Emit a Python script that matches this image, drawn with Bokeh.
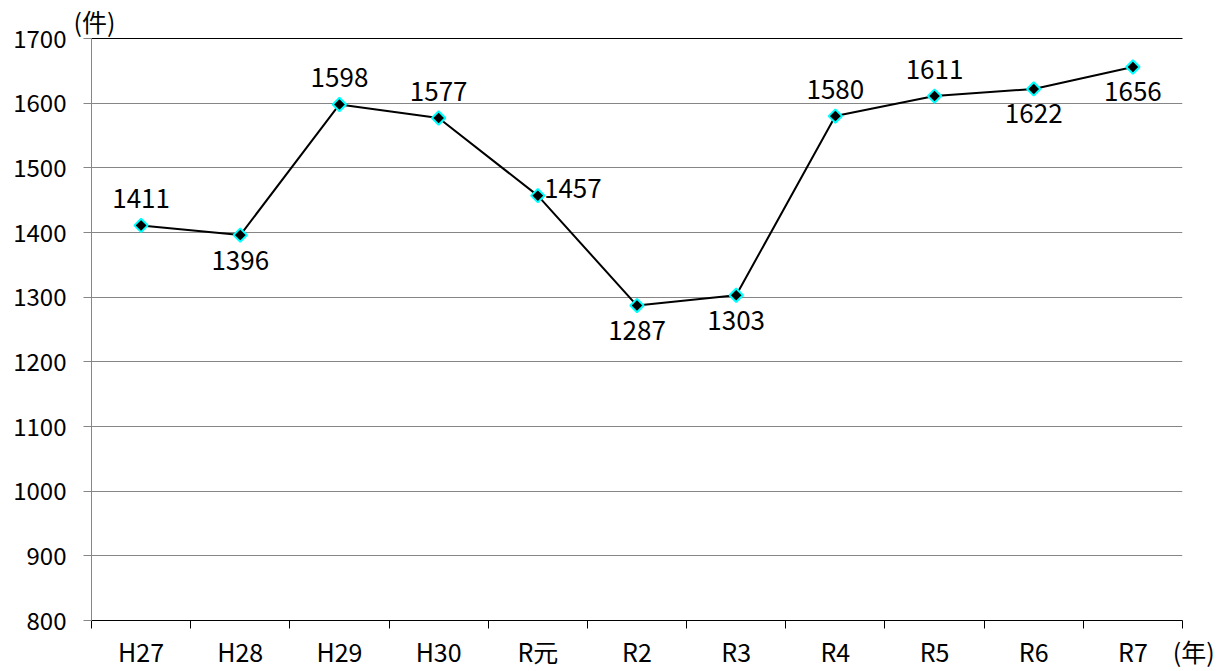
from bokeh.plotting import figure
from bokeh.models import (ColumnDataSource, LinearAxis, Range1d, FixedTicker,
                          LabelSet, FactorRange, Title)
from bokeh.core.properties import value
from bokeh.embed import file_html
from bokeh.resources import INLINE

years = ["H27", "H28", "H29", "H30", "R元", "R2", "R3", "R4", "R5", "R6", "R7"]
counts = [1411, 1396, 1598, 1577, 1457, 1287, 1303, 1580, 1611, 1622, 1656]
label_pos = ["above", "below", "above", "above", "right", "below", "below",
             "above", "above", "below", "below"]
y_ticks = [800, 900, 1000, 1100, 1200, 1300, 1400, 1500, 1600, 1700]
y_unit = "(件)"
x_unit = "(年)"

FONT = "Noto Sans CJK JP"

off_map = {"above": (0, 27), "below": (0, -25), "right": (35, 7)}
src = ColumnDataSource(dict(
    x=years, y=counts, t=[str(c) for c in counts],
    xo=[off_map[p][0] for p in label_pos],
    yo=[off_map[p][1] for p in label_pos],
))

p = figure(width=1231, height=671, x_range=FactorRange(*years), y_range=Range1d(800, 1700),
           output_backend="svg", toolbar_location=None, x_axis_location=None,
           min_border_left=91, min_border_right=49, min_border_top=38, min_border_bottom=50)
p.outline_line_color = None
p.background_fill_color = "white"
p.border_fill_color = "white"

# y axis
ya = p.yaxis[0]
ya.ticker = FixedTicker(ticks=y_ticks)
ya.axis_line_color = "#868686"
ya.major_tick_line_color = "#868686"
ya.major_tick_out = 8
ya.major_tick_in = 0
ya.minor_tick_line_color = None
ya.major_label_text_font = FONT
ya.major_label_text_font_size = "24px"
ya.major_label_text_color = "black"
ya.major_label_standoff = 17

p.ygrid.ticker = FixedTicker(ticks=y_ticks)
p.ygrid.grid_line_color = "#868686"
p.xgrid.grid_line_color = None

# dark top edge of the plot area
top_edge = LinearAxis(ticker=FixedTicker(ticks=[]), axis_line_color="black",
                      major_tick_line_color=None, minor_tick_line_color=None,
                      major_tick_out=0, minor_tick_out=0,
                      major_label_text_font_size="0px", major_label_standoff=0)
p.add_layout(top_edge, "above")

# x axis on the categorical range (synthetic coordinates):
# labels at category centres, tick marks at category boundaries, unit after the last one
n = len(years)
centres = [i + 0.5 for i in range(n)]
overrides = {c: y for c, y in zip(centres, years)}
overrides[n] = "\u00a0\u00a0\u00a0\u00a0" + x_unit
xa = LinearAxis(ticker=FixedTicker(ticks=centres + [n], minor_ticks=list(range(n + 1))),
                major_label_overrides=overrides,
                axis_line_color="black", major_tick_line_color=None,
                major_tick_out=0, major_tick_in=0,
                minor_tick_line_color="black", minor_tick_out=8, minor_tick_in=0,
                major_label_text_font=FONT, major_label_text_font_size="25px",
                major_label_text_color="black", major_label_standoff=4)
p.add_layout(xa, "below")

p.line("x", "y", source=src, line_color="black", line_width=2)
p.scatter("x", "y", source=src, marker="square", angle=0.7854, size=9.5,
          fill_color="black", line_color="#00FFFF", line_width=2)

labels = LabelSet(x="x", y="y", text="t", source=src, x_offset="xo", y_offset="yo",
                  text_align="center", text_baseline="middle",
                  text_font=value(FONT), text_font_size=value("26px"),
                  text_color="black")
p.add_layout(labels)

p.add_layout(Title(text=y_unit, align="left", offset=-18, standoff=0,
                   text_font=FONT, text_font_size="25px", text_font_style="normal",
                   text_color="black"), "above")

open("out.html", "w").write(file_html(p, INLINE))
